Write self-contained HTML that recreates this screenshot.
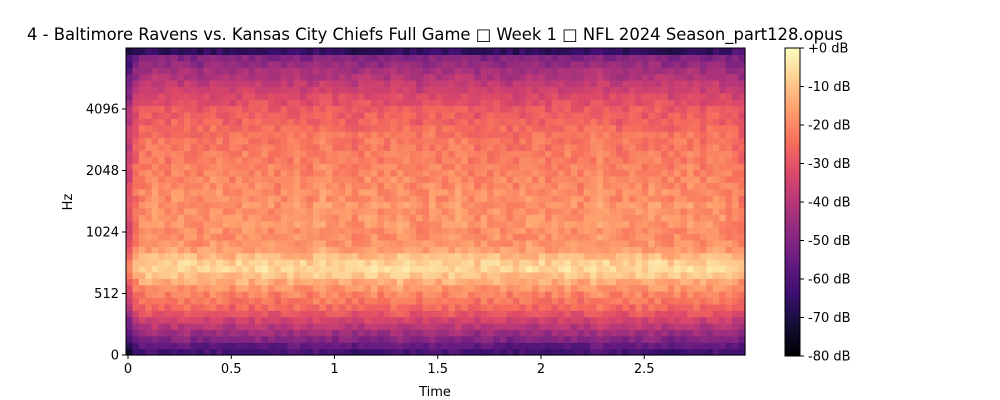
<!DOCTYPE html>
<html><head><meta charset="utf-8">
<style>
html,body{margin:0;padding:0;background:#fff;}
svg{display:block;font-family:"DejaVu Sans","Liberation Sans",sans-serif;}
</style></head>
<body>
<svg id="chart" width="1000" height="400" viewBox="0 0 1000 400" xmlns="http://www.w3.org/2000/svg">
<defs>
<linearGradient id="magma" x1="0" y1="1" x2="0" y2="0">
<stop offset="0" stop-color="#000004"/><stop offset="0.1" stop-color="#140e36"/><stop offset="0.2" stop-color="#3b0f70"/><stop offset="0.3" stop-color="#641a80"/><stop offset="0.4" stop-color="#8c2981"/><stop offset="0.5" stop-color="#b73779"/><stop offset="0.6" stop-color="#de4968"/><stop offset="0.7" stop-color="#f7705c"/><stop offset="0.8" stop-color="#fe9f6d"/><stop offset="0.9" stop-color="#fecf92"/><stop offset="1" stop-color="#fcfdbf"/>
</linearGradient>
</defs>
<text x="435" y="40" font-size="16.4" text-anchor="middle">4 - Baltimore Ravens vs. Kansas City Chiefs Full Game □ Week 1 □ NFL 2024 Season_part128.opus</text>
<g id="cells"></g>
<rect x="126" y="48" width="619" height="307" fill="none" stroke="#000" stroke-width="1"/>
<g id="xaxis"></g>
<g id="yaxis"></g>
<text x="435" y="396" font-size="13" text-anchor="middle">Time</text>
<text x="72" y="202" font-size="13" text-anchor="middle" transform="rotate(-90 72 202)">Hz</text>
<rect x="785" y="48" width="15" height="308" fill="url(#magma)" stroke="#000" stroke-width="1"/>
<g id="cbaxis"></g>
</svg>
<script>
// band mean levels (dB), bottom to top
const bandLevels=[-62,-57,-50,-45,-40,-35,-30,-26,-23,-21,-18,-14,-10,-7,-8,-12,-16,-18,-19,-19,-18,-18,-19,-18,-19,-19,-20,-20,-21,-21,-22,-22,-23,-23,-24,-25,-27,-28,-29,-31,-33,-36,-38,-41,-44,-47,-50,-58];
// per-frame offsets (dB)
const frameOffsets=[-14,-5,-1,0,1,0,-1,1,0,1,0,-1,0,1,1,0,-1,0,1,0,1,1,0,-1,0,0,1,0,-1,1,2,1,0,1,0,-1,0,1,1,0,0,1,2,1,0,-1,0,1,0,0,1,2,1,0,-1,0,0,1,0,-1,-1,0,1,0,0,-1,0,0,1,0,-1,0,1,2,1,0,-1,0,0,1,0,1,1,0,-1,0,0,1,0,-1,0,1,0,-1,-2,-4];
// texture variation (dB)
const texture=[2,-3,1,3,-2,0,3,-3,1,-1,2,-2,3,0,-3,1,3,-1,-3,2,0,-2,3,1,-3,3,-1,0,2,-3,1,3,-2,0,-1,3,-3,2,1,-2,0,1,-1,2,-2,0,1];
const xTicks=[0,0.5,1,1.5,2,2.5];
const yTickLabels=["0","512","1024","2048","4096"];
const yTickRows=[0,10,20,30,40]; // mel-band positions of ticks
const cbTicks=[0,-10,-20,-30,-40,-50,-60,-70,-80];

const X0=126,X1=745,Y0=48,Y1=355;
const nB=bandLevels.length,nF=frameOffsets.length;
const xs=t=>128+t*206.5;
const ybBand=b=>Y1-b*(Y1-Y0)/nB;
const dbToY=d=>48+(-d)/80*308;
const stops=[[0,0,0,4],[.1,20,14,54],[.2,59,15,112],[.3,100,26,128],[.4,140,41,129],[.5,183,55,121],[.6,222,73,104],[.7,247,112,92],[.8,254,159,109],[.9,254,207,146],[1,252,253,191]];
function magma(v){v=Math.max(0,Math.min(1,v));for(let i=1;i<stops.length;i++){if(v<=stops[i][0]){const a=stops[i-1],b=stops[i],f=(v-a[0])/(b[0]-a[0]);return `rgb(${Math.round(a[1]+f*(b[1]-a[1]))},${Math.round(a[2]+f*(b[2]-a[2]))},${Math.round(a[3]+f*(b[3]-a[3]))})`;}}return 'rgb(252,253,191)';}
const NS='http://www.w3.org/2000/svg';
const cells=document.getElementById('cells');
const cw=(X1-X0)/nF,ch=(Y1-Y0)/nB;
for(let f=0;f<nF;f++){for(let b=0;b<nB;b++){
 const k=(f*f*5+b*b*3+f*b*7+f*11+b*19)%texture.length;
 let d=bandLevels[b]+frameOffsets[f]+texture[k];
 if(b===nB-1&&f>0&&f<nF-2)d-=8;
 const r=document.createElementNS(NS,'rect');
 
 
 r.setAttribute('x',(X0+f*cw).toFixed(2));r.setAttribute('y',(ybBand(b+1)).toFixed(2));
 r.setAttribute('width',(cw+0.6).toFixed(2));r.setAttribute('height',(ch+0.6).toFixed(2));
 r.setAttribute('fill',magma((d+80)/80));cells.appendChild(r);}}
const xa=document.getElementById('xaxis');
xTicks.forEach(t=>{const x=xs(t);
 const l=document.createElementNS(NS,'line');
 
 
 l.setAttribute('x1',x);l.setAttribute('x2',x);l.setAttribute('y1',Y1);l.setAttribute('y2',Y1+4);l.setAttribute('stroke','#000');xa.appendChild(l);
 const tx=document.createElementNS(NS,'text');
 
 
 tx.setAttribute('x',x);tx.setAttribute('y',Y1+18);tx.setAttribute('font-size','13');tx.setAttribute('text-anchor','middle');tx.textContent=String(t);xa.appendChild(tx);});
const ya=document.getElementById('yaxis');
yTickRows.forEach((b,i)=>{const y=Y1-b*6.15;
 const l=document.createElementNS(NS,'line');
 
 
 l.setAttribute('x1',X0-4);l.setAttribute('x2',X0);l.setAttribute('y1',y);l.setAttribute('y2',y);l.setAttribute('stroke','#000');ya.appendChild(l);
 const tx=document.createElementNS(NS,'text');
 
 
 tx.setAttribute('x',X0-7);tx.setAttribute('y',y+4.5);tx.setAttribute('font-size','13');tx.setAttribute('text-anchor','end');tx.textContent=yTickLabels[i];ya.appendChild(tx);});
const cb=document.getElementById('cbaxis');
cbTicks.forEach(d=>{const y=dbToY(d);
 const l=document.createElementNS(NS,'line');
 
 
 l.setAttribute('x1',800);l.setAttribute('x2',804);l.setAttribute('y1',y);l.setAttribute('y2',y);l.setAttribute('stroke','#000');cb.appendChild(l);
 const tx=document.createElementNS(NS,'text');
 
 
 tx.setAttribute('x',808);tx.setAttribute('y',y+4.5);tx.setAttribute('font-size','13');tx.textContent=(d===0?'+0':String(d))+' dB';cb.appendChild(tx);});
</script>
</body></html>
